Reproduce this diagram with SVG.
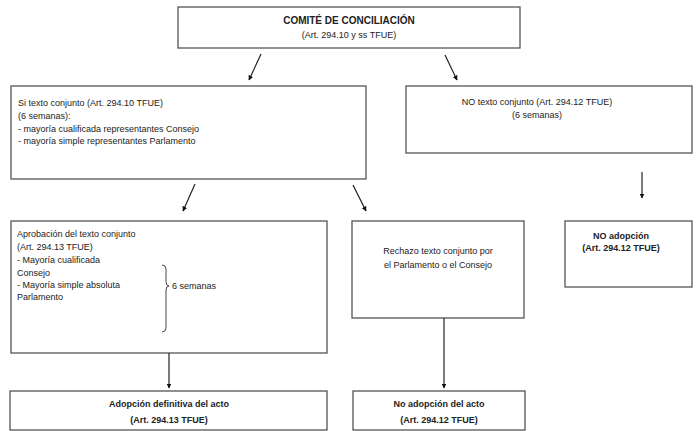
<svg xmlns="http://www.w3.org/2000/svg" width="698" height="431" viewBox="0 0 698 431">
<style>
.box{fill:#fff;stroke:#555;stroke-width:1.3}
.t{font-family:"Liberation Sans",Arial,sans-serif;font-size:9px;fill:#222}
.b{font-weight:bold}
.m{text-anchor:middle}
.c{stroke:#222;stroke-width:1.2;fill:none}
</style>
<defs>
<marker id="ah" viewBox="0 0 10 10" refX="9" refY="5" markerWidth="5" markerHeight="5" orient="auto" markerUnits="userSpaceOnUse">
<path d="M0,0 L10,5 L0,10 z" fill="#111"/>
</marker>
</defs>
<rect width="698" height="431" fill="#fff"/>
<g id="comite">
<rect class="box" x="178" y="7" width="342" height="41"/>
<text class="t b m" x="349" y="24" style="font-size:10px">COMITÉ DE CONCILIACIÓN</text>
<text class="t m" x="349" y="38">(Art. 294.10 y ss TFUE)</text>
</g>
<g id="si-texto">
<rect class="box" x="11" y="86" width="355" height="93"/>
<text class="t" x="18" y="106">Si texto conjunto (Art. 294.10 TFUE)</text>
<text class="t" x="18" y="119">(6 semanas):</text>
<text class="t" x="18" y="132">- mayoría cualificada representantes Consejo</text>
<text class="t" x="18" y="144">- mayoría simple representantes Parlamento</text>
</g>
<g id="no-texto">
<rect class="box" x="406" y="86" width="286" height="67"/>
<text class="t m" x="537" y="105">NO texto conjunto (Art. 294.12 TFUE)</text>
<text class="t m" x="537" y="118">(6 semanas)</text>
</g>
<g id="aprobacion">
<rect class="box" x="11" y="221" width="316" height="132"/>
<text class="t" x="17" y="237">Aprobación del texto conjunto</text>
<text class="t" x="17" y="250">(Art. 294.13 TFUE)</text>
<text class="t" x="17" y="263">- Mayoría cualificada</text>
<text class="t" x="17" y="276">Consejo</text>
<text class="t" x="17" y="288">- Mayoría simple absoluta</text>
<text class="t" x="17" y="300">Parlamento</text>
<path d="M162,265 Q166,265 166,269 L166,282 Q166,286 169,286 Q166,286 166,290 L166,328 Q166,332 162,332" fill="none" stroke="#333" stroke-width="0.9"/>
<text class="t" x="172" y="289">6 semanas</text>
</g>
<g id="rechazo">
<rect class="box" x="352" y="221" width="172" height="97"/>
<text class="t m" x="438" y="254">Rechazo texto conjunto por</text>
<text class="t m" x="438" y="268">el Parlamento o el Consejo</text>
</g>
<g id="no-adopcion">
<rect class="box" x="565" y="221" width="127" height="66"/>
<text class="t b m" x="621" y="239">NO adopción</text>
<text class="t b m" x="621" y="251">(Art. 294.12 TFUE)</text>
</g>
<g id="adopcion-definitiva">
<rect class="box" x="10" y="391" width="317" height="39"/>
<text class="t b m" x="169" y="407">Adopción definitiva del acto</text>
<text class="t b m" x="169" y="423">(Art. 294.13 TFUE)</text>
</g>
<g id="no-adopcion-acto">
<rect class="box" x="353" y="391" width="172" height="39"/>
<text class="t b m" x="439" y="407">No adopción del acto</text>
<text class="t b m" x="439" y="423">(Art. 294.12 TFUE)</text>
</g>
<g id="connectors">
<line class="c" x1="261" y1="54" x2="249" y2="80" marker-end="url(#ah)"/>
<line class="c" x1="445" y1="55" x2="457" y2="80" marker-end="url(#ah)"/>
<line class="c" x1="195" y1="184" x2="183" y2="211" marker-end="url(#ah)"/>
<line class="c" x1="353" y1="185" x2="366" y2="211" marker-end="url(#ah)"/>
<line class="c" x1="642" y1="172" x2="642" y2="198" marker-end="url(#ah)"/>
<line class="c" x1="169" y1="353" x2="169" y2="388" marker-end="url(#ah)"/>
<line class="c" x1="444" y1="318" x2="444" y2="388" marker-end="url(#ah)"/>
</g>
</svg>
